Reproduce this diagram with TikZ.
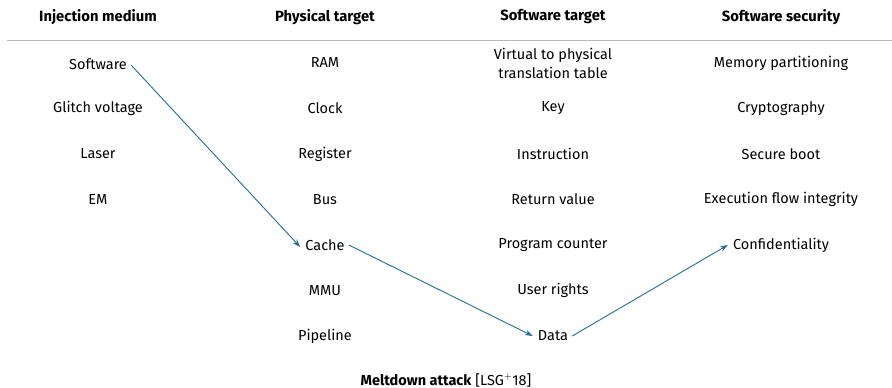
\documentclass[tikz,border=0pt]{standalone}
\usepackage{fontspec}
\setmainfont{Fira Sans}
\usetikzlibrary{arrows.meta}
\definecolor{arr}{HTML}{1F6E9A}
\begin{document}
\begin{tikzpicture}[x=1pt,y=-1pt,
  lbl/.style={font=\fontsize{14.5}{19}\selectfont, inner sep=3pt, align=center},
  hdr/.style={font=\fontsize{14.8}{18}\selectfont\bfseries, inner sep=2pt},
  link/.style={draw=arr, line width=0.9pt, -{Stealth[length=8pt,width=5.5pt]}}]
\useasboundingbox (0,0) rectangle (892,388);
\node[hdr] (h1) at (98,17) {Injection medium};
\node[hdr] (h2) at (325,17) {Physical target};
\node[hdr] (h3) at (553,17) {Software target};
\node[hdr] (h4) at (781,17) {Software security};
\draw[draw=black!28, line width=0.8pt] (7,40) -- (892,40);
% column 1
\node[lbl] (sw) at (98,64) {Software};
\node[lbl] (gv) at (98,108.5) {Glitch voltage};
\node[lbl] (la) at (98,154) {Laser};
\node[lbl] (em) at (98,199.5) {EM};
% column 2
\node[lbl] (ram) at (325,63) {RAM};
\node[lbl] (clk) at (325,108.5) {Clock};
\node[lbl] (reg) at (325,154) {Register};
\node[lbl] (bus) at (325,199.5) {Bus};
\node[lbl] (cache) at (325,245) {Cache};
\node[lbl] (mmu) at (325,290.5) {MMU};
\node[lbl] (pipe) at (325,336) {Pipeline};
% column 3
\node[lbl] (vp) at (553,63) {Virtual to physical\\translation table};
\node[lbl] (key) at (553,108.5) {Key};
\node[lbl] (ins) at (553,154) {Instruction};
\node[lbl] (ret) at (553,199.5) {Return value};
\node[lbl] (pc) at (553,245) {Program counter};
\node[lbl] (ur) at (553,290.5) {User rights};
\node[lbl] (data) at (553,336) {Data};
% column 4
\node[lbl] (mp) at (781,63) {Memory partitioning};
\node[lbl] (cr) at (781,108.5) {Cryptography};
\node[lbl] (sb) at (781,154) {Secure boot};
\node[lbl] (efi) at (781,199.5) {Execution flow integrity};
\node[lbl] (conf) at (781,245) {Confidentiality};
% arrows
\draw[link] ([xshift=1pt,yshift=-1pt]sw.east) -- ([xshift=-2pt,yshift=-2pt]cache.west);
\draw[link] ([xshift=1pt]cache.east) -- ([xshift=-2pt]data.west);
\draw[link] ([xshift=1pt]data.east) -- ([xshift=-2pt]conf.west);
% caption
\node[font=\fontsize{14.5}{18}\selectfont, inner sep=2pt] (cap) at (446,380) {\textbf{Meltdown attack} [LSG$^{+}$18]};
\end{tikzpicture}
\end{document}
